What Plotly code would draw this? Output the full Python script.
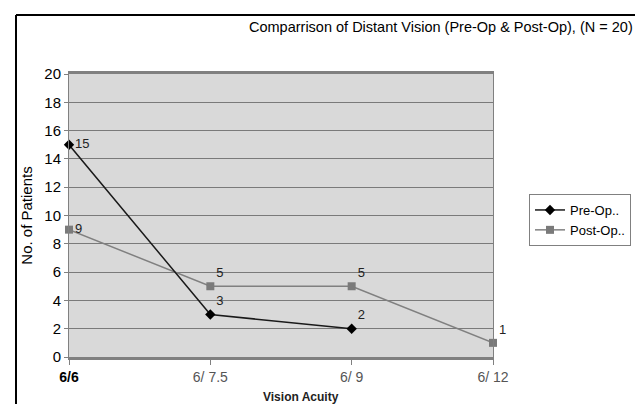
import plotly.graph_objects as go

categories = ["6/6", "6/7.5", "6/9", "6/12"]
tick_labels = ["<b><span style='color:#000000;font-size:14px'>6/6</span></b>", "6/ 7.5", "6/ 9", "6/ 12"]
pre_op = [15, 3, 2, None]
post_op = [9, 5, 5, 1]
pre_text = ["15", "3", "2", ""]
post_text = ["9", "5", "5", "1"]

W, H = 643, 404
L, R, T, B = 61, 158, 66, 55
pw, ph = W - L - R, H - T - B

def px(x):
    return (x - L) / pw

def py(y):
    return (H - B - y) / ph

FONT = "Liberation Sans, Arial, sans-serif"

fig = go.Figure()
fig.add_trace(go.Scatter(
    x=categories, y=post_op, name="Post-Op..", mode="lines+markers+text",
    line=dict(color="#808080", width=1.5),
    marker=dict(symbol="square", size=8, color="#7a7a7a"),
    text=post_text,
    textposition=["middle right", "top right", "top right", "top right"],
    textfont=dict(family=FONT, size=13, color="#222222"),
    cliponaxis=False,
))
fig.add_trace(go.Scatter(
    x=categories, y=pre_op, name="Pre-Op..", mode="lines+markers+text",
    line=dict(color="#1a1a1a", width=1.5),
    marker=dict(symbol="diamond", size=8, color="#000000"),
    text=pre_text,
    textposition=["middle right", "top right", "top right", "top right"],
    textfont=dict(family=FONT, size=13, color="#222222"),
    cliponaxis=False,
))

fig.update_layout(
    width=W, height=H,
    margin=dict(l=L, r=R, t=T, b=B, autoexpand=False),
    paper_bgcolor="white",
    plot_bgcolor="#d9d9d9",
    font=dict(family=FONT, size=12, color="#000000"),
    showlegend=True,
    legend=dict(
        x=px(521), y=py(186), xanchor="left", yanchor="top",
        bordercolor="#808080", borderwidth=1, bgcolor="white",
        font=dict(family=FONT, size=13, color="#000000"),
        traceorder="reversed", tracegroupgap=0,
        itemwidth=30,
    ),
    xaxis=dict(
        type="category", categoryorder="array", categoryarray=categories,
        tickvals=categories, ticktext=tick_labels,
        range=[0, 3], showgrid=False,
        showline=True, linecolor="#808080", linewidth=2.5, mirror=True,
        ticks="outside", ticklen=5, tickcolor="#808080",
        tickfont=dict(family=FONT, size=14, color="#555555"),
        zeroline=False,
    ),
    yaxis=dict(
        range=[0, 20], dtick=2, tick0=0,
        showgrid=True, gridcolor="#7a7a7a", gridwidth=1.2,
        showline=True, linecolor="#808080", linewidth=1, mirror=True,
        ticks="outside", ticklen=4, tickcolor="#808080",
        tickfont=dict(family=FONT, size=15, color="#000000"),
        title=dict(text="No. of Patients", font=dict(family=FONT, size=15, color="#000000"), standoff=8),
        zeroline=False,
    ),
    annotations=[
        dict(text="Comparrison of Distant Vision (Pre-Op & Post-Op), (N = 20)",
             x=px(433), y=py(19), xref="paper", yref="paper",
             xanchor="center", yanchor="middle", showarrow=False,
             font=dict(family=FONT, size=14.5, color="#000000")),
        dict(text="<b>Vision Acuity</b>",
             x=px(293), y=py(389), xref="paper", yref="paper",
             xanchor="center", yanchor="middle", showarrow=False,
             font=dict(family=FONT, size=12, color="#222222")),
    ],
    shapes=[
        dict(type="line", xref="paper", yref="paper",
             x0=px(8), x1=px(8), y0=py(410), y1=py(7),
             line=dict(color="#000000", width=2)),
        dict(type="line", xref="paper", yref="paper",
             x0=px(8), x1=px(650), y0=py(7), y1=py(7),
             line=dict(color="#000000", width=2)),
    ],
)

fig.write_html("out.html")
